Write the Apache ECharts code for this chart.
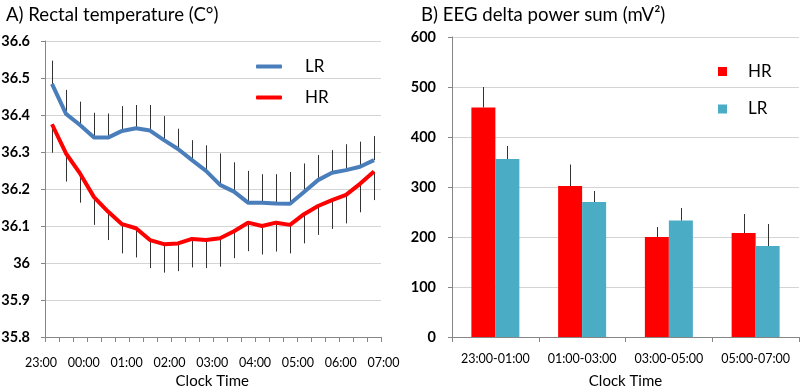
<!DOCTYPE html>
<html><head><meta charset="utf-8">
<script src="https://cdn.jsdelivr.net/npm/echarts@6/dist/echarts.min.js"></script>
<style>
html,body{margin:0;padding:0;background:#fff}
#a{position:absolute;left:0;top:0;width:400px;height:387px}
#b{position:absolute;left:400px;top:0;width:400px;height:387px}
</style>
</head><body><div id="a"></div><div id="b"></div>
<script>
// ---- Panel A data: rectal temperature, 20-min bins ----
const timeSlots = ['23:00','23:20','23:40','00:00','00:20','00:40','01:00','01:20','01:40','02:00','02:20','02:40',
                   '03:00','03:20','03:40','04:00','04:20','04:40','05:00','05:20','05:40','06:00','06:20','06:40'];
const hourLabels = ['23:00','00:00','01:00','02:00','03:00','04:00','05:00','06:00','07:00'];
const lrMean  = [36.484,36.403,36.373,36.339,36.339,36.357,36.364,36.358,36.332,36.308,36.278,36.249,
                 36.211,36.193,36.163,36.163,36.161,36.160,36.192,36.224,36.244,36.251,36.260,36.278];
const lrUpper = [36.547,36.468,36.436,36.406,36.404,36.424,36.427,36.427,36.397,36.363,36.332,36.318,
                 36.296,36.272,36.249,36.240,36.240,36.246,36.269,36.292,36.305,36.321,36.328,36.343];
const hrMean  = [36.375,36.296,36.242,36.178,36.139,36.105,36.094,36.062,36.051,36.053,36.065,36.062,
                 36.067,36.086,36.109,36.100,36.109,36.103,36.132,36.154,36.170,36.184,36.214,36.247];
const hrLower = [36.298,36.220,36.163,36.103,36.062,36.026,36.015,35.986,35.974,35.978,35.988,35.986,
                 35.990,36.013,36.032,36.023,36.031,36.026,36.053,36.076,36.092,36.107,36.137,36.170];

// ---- Panel B data: EEG delta power sum ----
const eegCategories = ['23:00-01:00','01:00-03:00','03:00-05:00','05:00-07:00'];
const hrEeg    = [459, 302, 200, 208];
const hrEegTop = [500, 345, 220, 246];
const lrEeg    = [356, 270, 233, 182];
const lrEegTop = [382, 292, 258, 226];

const FONT = 'Lato, "Liberation Sans", sans-serif';
const AXIS = '#868686', GRID = '#d4d4d4', ERR = '#333333';
const BLUE = '#4A7EBB', RED = '#FF0000', TEAL = '#4BACC6';

function errLine(off){
  return function(params, api){
    const a = api.coord([api.value(0), api.value(1)]);
    const b = api.coord([api.value(0), api.value(2)]);
    const x = Math.round(a[0] + off) + 0.5;
    return {type:'line', shape:{x1:x, y1:a[1], x2:x, y2:b[1]}, style:{stroke:ERR, lineWidth:1}};
  };
}

// ---------------- Chart A ----------------
const ca = echarts.init(document.getElementById('a'), null, {renderer:'canvas'});
ca.setOption({
  animation:false,
  textStyle:{fontFamily:FONT},
  title:{text:'A) Rectal temperature (C°)', left:1, top:0,
         textStyle:{fontFamily:FONT, fontSize:18.6, fontWeight:'normal', color:'#000'}},
  legend:{orient:'vertical', left:251, top:53, itemWidth:26, itemHeight:4, itemGap:14,
          icon:'roundRect', selectedMode:false, data:['LR','HR'],
          formatter:n => '{t|' + n + '}',
          textStyle:{rich:{t:{fontFamily:FONT, fontSize:17, color:'#000', padding:[0,0,0,18], lineHeight:18}}}},
  grid:[
    {left:45, top:41, width:336, height:296, outerBoundsMode:'none', containLabel:false},
    {left:41, top:41, width:342.5, height:296, outerBoundsMode:'none', containLabel:false}
  ],
  xAxis:[
    {type:'category', gridIndex:0, data:timeSlots, boundaryGap:true,
     axisLine:{lineStyle:{color:AXIS}},
     axisTick:{show:true, interval:0, length:5, lineStyle:{color:AXIS}},
     axisLabel:{show:false}, splitLine:{show:false}},
    {type:'value', gridIndex:1, min:0, max:8, interval:1,
     axisLine:{show:false}, axisTick:{show:false}, splitLine:{show:false},
     axisLabel:{margin:19, fontFamily:FONT, fontSize:12.5, color:'#000', formatter:v => hourLabels[v]},
     name:'Clock Time', nameLocation:'middle', nameGap:36,
     nameTextStyle:{fontFamily:FONT, fontSize:15, color:'#000'}}
  ],
  yAxis:[
    {type:'value', gridIndex:0, min:35.8, max:36.6, interval:0.1,
     axisLine:{show:true, lineStyle:{color:AXIS}},
     axisTick:{show:true, length:4, lineStyle:{color:AXIS}},
     axisLabel:{margin:15, fontFamily:FONT, fontSize:14.5, fontWeight:'bold', color:'#000',
                formatter:v => String(Math.round(v*10)/10)},
     splitLine:{lineStyle:{color:GRID}}},
    {type:'value', gridIndex:1, min:0, max:1, show:false}
  ],
  series:[
    {type:'custom', name:'LRerr', xAxisIndex:0, yAxisIndex:0, silent:true, z:1,
     encode:{x:0, y:[1,2]}, renderItem:errLine(0),
     data:lrMean.map((v,i)=>[i, v, lrUpper[i]])},
    {type:'custom', name:'HRerr', xAxisIndex:0, yAxisIndex:0, silent:true, z:1,
     encode:{x:0, y:[1,2]}, renderItem:errLine(0),
     data:hrMean.map((v,i)=>[i, v, hrLower[i]])},
    {type:'line', name:'LR', xAxisIndex:0, yAxisIndex:0, data:lrMean, showSymbol:false, symbol:'none', z:3,
     lineStyle:{color:BLUE, width:4}, itemStyle:{color:BLUE}},
    {type:'line', name:'HR', xAxisIndex:0, yAxisIndex:0, data:hrMean, showSymbol:false, symbol:'none', z:3,
     lineStyle:{color:RED, width:4}, itemStyle:{color:RED}}
  ]
});

// ---------------- Chart B ----------------
const cb = echarts.init(document.getElementById('b'), null, {renderer:'canvas'});
cb.setOption({
  animation:false,
  textStyle:{fontFamily:FONT},
  title:{text:'B) EEG delta power sum (mV²)', left:16, top:0,
         textStyle:{fontFamily:FONT, fontSize:18.6, fontWeight:'normal', color:'#000'}},
  legend:{orient:'vertical', left:313, top:58, itemWidth:9, itemHeight:9, itemGap:20.5,
          icon:'rect', selectedMode:false, data:['HR','LR'],
          formatter:n => '{t|' + n + '}',
          textStyle:{rich:{t:{fontFamily:FONT, fontSize:17, color:'#000', padding:[0,0,0,16], lineHeight:18}}}},
  grid:{left:52, top:37, width:347, height:300, outerBoundsMode:'none', containLabel:false},
  xAxis:{type:'category', data:eegCategories, boundaryGap:true,
     axisLine:{lineStyle:{color:AXIS}},
     axisTick:{show:true, interval:0, length:5, lineStyle:{color:AXIS}},
     axisLabel:{margin:15, fontFamily:FONT, fontSize:12.5, color:'#000', interval:0},
     name:'Clock Time', nameLocation:'middle', nameGap:37,
     nameTextStyle:{fontFamily:FONT, fontSize:15, color:'#000'}},
  yAxis:{type:'value', min:0, max:600, interval:100,
     axisLine:{show:true, lineStyle:{color:AXIS}},
     axisTick:{show:true, length:4, lineStyle:{color:AXIS}},
     axisLabel:{margin:16, fontFamily:FONT, fontSize:14.5, fontWeight:'bold', color:'#000'},
     splitLine:{lineStyle:{color:GRID}}},
  series:[
    {type:'bar', name:'HR', data:hrEeg, barWidth:24, barGap:'0%', itemStyle:{color:RED}, z:2},
    {type:'bar', name:'LR', data:lrEeg, barWidth:24, barGap:'0%', itemStyle:{color:TEAL}, z:2},
    {type:'custom', name:'HRerr', silent:true, z:3, encode:{x:0, y:[1,2]}, renderItem:errLine(-12),
     data:hrEeg.map((v,i)=>[i, v, hrEegTop[i]])},
    {type:'custom', name:'LRerr', silent:true, z:3, encode:{x:0, y:[1,2]}, renderItem:errLine(12),
     data:lrEeg.map((v,i)=>[i, v, lrEegTop[i]])}
  ]
});
</script>
</body></html>
